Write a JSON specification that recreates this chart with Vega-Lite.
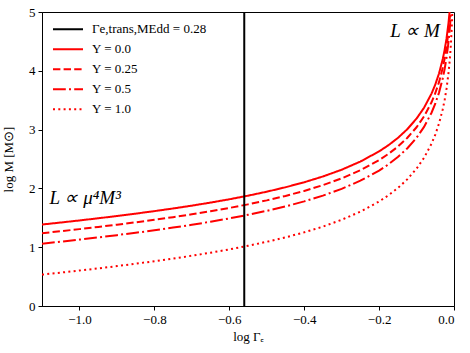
{
  "$schema": "https://vega.github.io/schema/vega-lite/v6.json",
  "width": 412,
  "height": 294,
  "autosize": {"type": "none"},
  "padding": {"left": 42, "top": 12, "right": 16, "bottom": 47},
  "background": "white",
  "config": {
    "font": "Liberation Serif",
    "view": {"stroke": "black", "strokeWidth": 1},
    "axis": {
      "grid": false,
      "domainColor": "black",
      "tickColor": "black",
      "tickSize": 4,
      "labelColor": "black",
      "titleColor": "black",
      "labelFont": "Liberation Serif",
      "titleFont": "Liberation Serif",
      "labelFontSize": 13,
      "titleFontSize": 13,
      "titleFontWeight": "normal",
      "labelPadding": 3
    },
    "legend": {"labelFont": "Liberation Serif"}
  },
  "layer": [
    {
      "data": {"values": [
        {"x": -1.1, "y0": 1.3854, "y25": 1.2378, "y50": 1.0600, "y100": 0.5335},
        {"x": -1.05, "y0": 1.4196, "y25": 1.2720, "y50": 1.0942, "y100": 0.5677},
        {"x": -1.0, "y0": 1.4550, "y25": 1.3074, "y50": 1.1296, "y100": 0.6031},
        {"x": -0.95, "y0": 1.4919, "y25": 1.3443, "y50": 1.1665, "y100": 0.6400},
        {"x": -0.9, "y0": 1.5304, "y25": 1.3828, "y50": 1.2050, "y100": 0.6785},
        {"x": -0.85, "y0": 1.5708, "y25": 1.4232, "y50": 1.2454, "y100": 0.7189},
        {"x": -0.8, "y0": 1.6134, "y25": 1.4658, "y50": 1.2880, "y100": 0.7615},
        {"x": -0.75, "y0": 1.6586, "y25": 1.5110, "y50": 1.3332, "y100": 0.8067},
        {"x": -0.7, "y0": 1.7068, "y25": 1.5592, "y50": 1.3814, "y100": 0.8549},
        {"x": -0.65, "y0": 1.7586, "y25": 1.6110, "y50": 1.4332, "y100": 0.9067},
        {"x": -0.6, "y0": 1.8147, "y25": 1.6671, "y50": 1.4893, "y100": 0.9628},
        {"x": -0.55, "y0": 1.8761, "y25": 1.7285, "y50": 1.5507, "y100": 1.0242},
        {"x": -0.5, "y0": 1.9437, "y25": 1.7961, "y50": 1.6183, "y100": 1.0918},
        {"x": -0.45, "y0": 2.0191, "y25": 1.8715, "y50": 1.6937, "y100": 1.1672},
        {"x": -0.4, "y0": 2.1045, "y25": 1.9569, "y50": 1.7791, "y100": 1.2526},
        {"x": -0.35, "y0": 2.2026, "y25": 2.0550, "y50": 1.8772, "y100": 1.3507},
        {"x": -0.3, "y0": 2.3176, "y25": 2.1700, "y50": 1.9922, "y100": 1.4657},
        {"x": -0.25, "y0": 2.4562, "y25": 2.3086, "y50": 2.1308, "y100": 1.6043},
        {"x": -0.2, "y0": 2.6294, "y25": 2.4818, "y50": 2.3040, "y100": 1.7775},
        {"x": -0.175, "y0": 2.7346, "y25": 2.5870, "y50": 2.4092, "y100": 1.8827},
        {"x": -0.15, "y0": 2.8576, "y25": 2.7100, "y50": 2.5322, "y100": 2.0057},
        {"x": -0.125, "y0": 3.0048, "y25": 2.8572, "y50": 2.6794, "y100": 2.1529},
        {"x": -0.1, "y0": 3.1872, "y25": 3.0396, "y50": 2.8618, "y100": 2.3353},
        {"x": -0.08, "y0": 3.3717, "y25": 3.2241, "y50": 3.0463, "y100": 2.5198},
        {"x": -0.06, "y0": 3.6121, "y25": 3.4645, "y50": 3.2867, "y100": 2.7602},
        {"x": -0.05, "y0": 3.7657, "y25": 3.6181, "y50": 3.4403, "y100": 2.9138},
        {"x": -0.04, "y0": 3.9546, "y25": 3.8070, "y50": 3.6292, "y100": 3.1027},
        {"x": -0.03, "y0": 4.1997, "y25": 4.0521, "y50": 3.8743, "y100": 3.3478},
        {"x": -0.025, "y0": 4.3556, "y25": 4.2080, "y50": 4.0302, "y100": 3.5037},
        {"x": -0.02, "y0": 4.5469, "y25": 4.3993, "y50": 4.2215, "y100": 3.6950},
        {"x": -0.015, "y0": 4.7943, "y25": 4.6467, "y50": 4.4689, "y100": 3.9424},
        {"x": -0.012, "y0": 4.9867, "y25": 4.8391, "y50": 4.6613, "y100": 4.1348},
        {"x": -0.01, "y0": 5.1442, "y25": 4.9966, "y50": 4.8188, "y100": 4.2923},
        {"x": -0.008, "y0": 5.3369, "y25": 5.1893, "y50": 5.0115, "y100": 4.4850},
        {"x": -0.006, "y0": 5.5858, "y25": 5.4382, "y50": 5.2604, "y100": 4.7339},
        {"x": -0.005, "y100": 4.8917},
        {"x": -0.004, "y100": 5.0851}
      ]},
      "transform": [{"fold": ["y0", "y25", "y50", "y100"], "as": ["s", "y"]}],
      "mark": {"type": "line", "clip": true, "strokeWidth": 2},
      "encoding": {
        "x": {"field": "x", "type": "quantitative"},
        "y": {"field": "y", "type": "quantitative"},
        "color": {"field": "s", "type": "nominal"},
        "strokeDash": {"field": "s", "type": "nominal"}
      }
    },
    {
      "data": {"values": [
        {"x": -0.56, "y": 0, "s": "g"},
        {"x": -0.56, "y": 5, "s": "g"}
      ]},
      "mark": {"type": "line", "clip": true, "strokeWidth": 2},
      "encoding": {
        "x": {"field": "x", "type": "quantitative",
          "scale": {"domain": [-1.1, 0], "nice": false, "zero": false},
          "axis": {"title": "log Γₑ", "values": [-1.0, -0.8, -0.6, -0.4, -0.2, 0.0], "format": ".1f", "titlePadding": 4}},
        "y": {"field": "y", "type": "quantitative",
          "scale": {"domain": [0, 5], "nice": false},
          "axis": {"title": "log M [M⊙]", "values": [0, 1, 2, 3, 4, 5], "format": "d", "titlePadding": 13}},
        "color": {"field": "s", "type": "nominal",
          "scale": {"domain": ["g", "y0", "y25", "y50", "y100"], "range": ["black", "#ff0000", "#ff0000", "#ff0000", "#ff0000"]},
          "legend": {
            "title": null,
            "orient": "none",
            "legendX": 10,
            "legendY": 7.5,
            "symbolType": "stroke",
            "symbolSize": 900,
            "symbolStrokeWidth": 2,
            "clipHeight": 19.3,
            "labelFont": "Liberation Serif",
            "labelFontSize": 13,
            "labelColor": "black",
            "labelOffset": 8,
            "rowPadding": 0,
            "padding": 0,
            "labelExpr": "datum.label == 'g' ? 'Γe,trans,MEdd = 0.28' : datum.label == 'y0' ? 'Y = 0.0' : datum.label == 'y25' ? 'Y = 0.25' : datum.label == 'y50' ? 'Y = 0.5' : 'Y = 1.0'"
          }},
        "strokeDash": {"field": "s", "type": "nominal",
          "scale": {"domain": ["g", "y0", "y25", "y50", "y100"], "range": [[1, 0], [1, 0], [7.4, 3.2], [12.8, 3.2, 2, 3.2], [2, 3.3]]}}
      }
    },
    {
      "data": {"values": [{}]},
      "mark": {"type": "text", "text": "L ∝ M", "font": "Liberation Serif", "fontSize": 19, "fontStyle": "italic", "align": "right", "baseline": "alphabetic", "color": "black"},
      "encoding": {"x": {"datum": -0.038}, "y": {"datum": 4.58}}
    },
    {
      "data": {"values": [{}]},
      "mark": {"type": "text", "text": "L ∝ μ⁴M³", "font": "Liberation Serif", "fontSize": 19, "fontStyle": "italic", "align": "left", "baseline": "alphabetic", "color": "black"},
      "encoding": {"x": {"datum": -1.08}, "y": {"datum": 1.74}}
    }
  ]
}
